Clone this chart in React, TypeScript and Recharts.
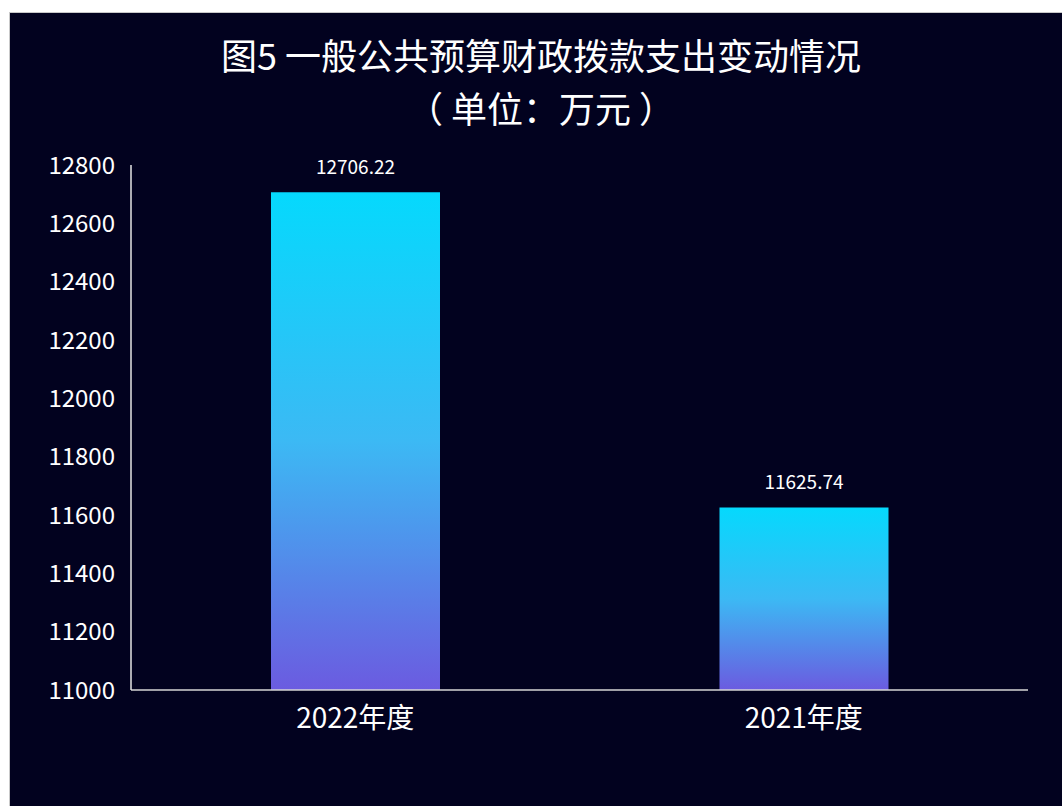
import { Bar, BarChart, LabelList, XAxis, YAxis } from 'recharts'

const categories = ['2022年度', '2021年度']
const spending = [12706.22, 11625.74]
const yTicks = [11000, 11200, 11400, 11600, 11800, 12000, 12200, 12400, 12600, 12800]
const titleLines = ['图5 一般公共预算财政拨款支出变动情况', '（ 单位：万元 ）']

const data = categories.map((name, i) => ({ name, value: spending[i] }))

const font = '"Noto Sans CJK SC", "Noto Sans", sans-serif'

export default function App() {
  return (
    <div
      style={{
        position: 'absolute',
        left: 0,
        top: 0,
        width: 1062,
        height: 806,
        background: '#fff',
        overflow: 'hidden',
        fontFamily: font,
      }}
    >
      <div
        style={{
          position: 'absolute',
          left: 9,
          top: 12,
          width: 1060,
          height: 800,
          background: '#02021f',
          borderTop: '1px solid #c9c9c9',
          borderLeft: '1px solid #c9c9c9',
        }}
      />
      {titleLines.map((line, i) => (
        <div
          key={line}
          style={{
            position: 'absolute',
            left: 0,
            top: 34 + i * 53,
            width: 1082,
            textAlign: 'center',
            color: '#fff',
            fontSize: 36,
            lineHeight: '40px',
            height: 40,
          }}
        >
          {line}
        </div>
      ))}
      <div style={{ position: 'absolute', left: 0, top: 0 }}>
        <BarChart
          width={1062}
          height={806}
          data={data}
          margin={{ top: 165, right: 34, bottom: 56, left: 0 }}
        >
          <defs>
            <linearGradient id='barFill' x1='0' y1='0' x2='0' y2='1'>
              <stop offset='0%' stopColor='#05d9fd' />
              <stop offset='50%' stopColor='#3cb9f4' />
              <stop offset='100%' stopColor='#6b5be0' />
            </linearGradient>
          </defs>
          <XAxis
            dataKey='name'
            stroke='#d6d6d6'
            strokeWidth={1.5}
            tickLine={false}
            tickMargin={12}
            height={60}
            tick={{ fill: '#ffffff', fontSize: 28, fontFamily: font }}
          />
          <YAxis
            domain={[11000, 12800]}
            ticks={yTicks}
            width={131}
            stroke='#e6e6e6'
            strokeWidth={1.5}
            tickLine={false}
            tickMargin={10}
            interval={0}
            tick={{ fill: '#ffffff', fontSize: 24, fontFamily: font }}
          />
          <Bar dataKey='value' fill='url(#barFill)' barSize={169} isAnimationActive={false}>
            <LabelList
              dataKey='value'
              position='top'
              offset={18}
              fill='#ffffff'
              fontSize={19}
              fontFamily={font}
            />
          </Bar>
        </BarChart>
      </div>
    </div>
  )
}
